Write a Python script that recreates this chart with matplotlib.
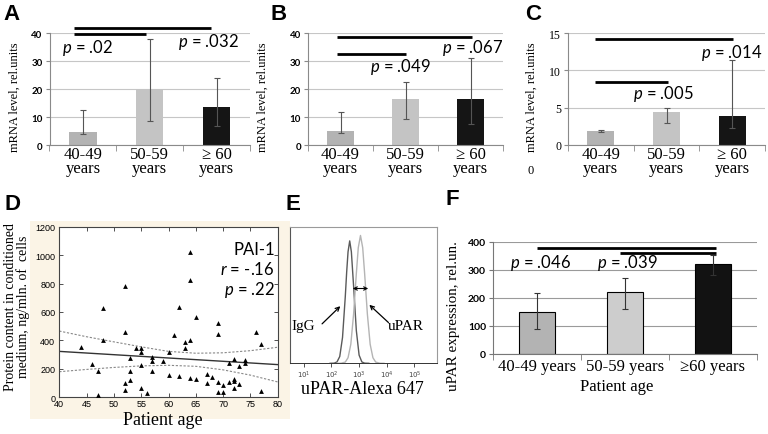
import matplotlib
matplotlib.use('Agg')
import matplotlib.pyplot as plt
import numpy as np
from matplotlib.patches import Rectangle
from matplotlib.ticker import LogLocator, NullFormatter

# ---------------- data ----------------
age_groups = ['40-49\nyears', '50-59\nyears', '\u2265 60\nyears']
f_age_groups = ['40-49 years', '50-59 years', '\u226560 years']

a_mean = [4.6, 20.0, 13.6]
a_low = [3.9, 8.5, 6.9]
a_high = [12.5, 37.7, 23.9]

b_mean = [4.9, 16.5, 16.3]
b_low = [4.2, 9.3, 7.5]
b_high = [11.9, 22.5, 31.0]

c_mean = [1.92, 4.42, 3.93]
c_low = [1.75, 2.95, 2.28]
c_high = [2.05, 4.96, 11.43]

f_mean = [149, 221, 321]
f_low = [88, 160, 281]
f_high = [217, 271, 352]

a_pvals = ['p = .02', 'p = .032']
b_pvals = ['p = .049', 'p = .067']
c_pvals = ['p = .005', 'p = .014']
f_pvals = ['p = .046', 'p = .039']

d_age = [44, 46, 47, 47, 48, 48, 52, 52, 52, 52, 53, 53, 53, 54, 55, 55, 55, 55,
         56, 57, 57, 57, 59, 60, 60, 61, 62, 62, 63, 63, 64, 64, 64, 64, 65, 65,
         67, 67, 68, 69, 69, 69, 69, 70, 70, 71, 71, 72, 72, 72, 72, 73, 73, 74,
         74, 76, 77, 77]
d_pai1 = [352, 234, 183, 14, 630, 400, 784, 457, 104, 52, 274, 183, 123, 347, 347,
          321, 230, 66, 27, 284, 258, 183, 253, 321, 157, 440, 633, 152, 391, 348,
          1020, 822, 404, 134, 563, 130, 164, 103, 143, 522, 444, 110, 38, 89, 36,
          244, 108, 270, 129, 114, 63, 220, 94, 259, 244, 456, 376, 45]
d_fit_x = [40, 80]
d_fit_y = [323, 230]
d_band_x = [40, 45, 50, 55, 60, 65, 70, 75, 80]
d_band_hi = [466, 426, 390, 355, 323, 310, 313, 328, 352]
d_band_lo = [180, 196, 210, 221, 225, 218, 193, 156, 108]

igg_logx = [1.95, 2.1, 2.2, 2.3, 2.4, 2.5, 2.55, 2.6, 2.66, 2.72, 2.8, 2.9, 3.0, 3.1, 3.2, 3.35]
igg_h = [0.0, 0.001, 0.01, 0.05, 0.19, 0.49, 0.67, 0.82, 0.90, 0.82, 0.57, 0.24, 0.06, 0.01, 0.001, 0.0]
upar_logx = [2.2, 2.35, 2.5, 2.6, 2.7, 2.8, 2.9, 2.97, 3.05, 3.13, 3.2, 3.3, 3.4, 3.5, 3.6, 3.75, 3.9]
upar_h = [0.0, 0.0005, 0.009, 0.041, 0.14, 0.36, 0.66, 0.85, 0.94, 0.85, 0.66, 0.36, 0.14, 0.041, 0.009, 0.0005, 0.0]

# ---------------- layout helpers ----------------
W, H = 768, 435
fig = plt.figure(figsize=(W / 100, H / 100), dpi=100)
SANS = 'Lato'
SERIF = 'Liberation Serif'
ARIAL = 'Liberation Sans'

plt.rcParams['mathtext.fontset'] = 'custom'
plt.rcParams['mathtext.it'] = 'Lato:italic'
plt.rcParams['mathtext.rm'] = 'Lato'


def add_ax(x0, y0, x1, y1):
    return fig.add_axes([x0 / W, 1 - y1 / H, (x1 - x0) / W, (y1 - y0) / H])


def ftext(x, y, s, **kw):
    fig.text(x / W, 1 - y / H, s, **kw)


# beige background behind panel D
fig.patches.append(Rectangle((30 / W, 1 - 420 / H), 260 / W, 198 / H,
                             transform=fig.transFigure, facecolor='#fbf4e6',
                             edgecolor='none', zorder=-5))

bar_cols = ['#b3b3b3', '#c4c4c4', '#151515']


def bar_panel(ax, means, lows, highs, ymax, step, tfont, tsize):
    x = np.arange(len(means))
    err = [np.subtract(means, lows), np.subtract(highs, means)]
    ax.bar(x, means, width=0.41, color=bar_cols, zorder=2)
    ax.errorbar(x, means, yerr=err, fmt='none', ecolor='#555555', elinewidth=0.8,
                capsize=2, capthick=0.8, zorder=3)
    ax.set_xlim(-0.5, 2.5)
    ax.set_ylim(0, ymax)
    ax.set_yticks(np.arange(0, ymax + 0.01, step))
    ax.yaxis.grid(True, color='#c6c6c6', lw=0.8)
    ax.set_axisbelow(True)
    for s in ['top', 'right']:
        ax.spines[s].set_visible(False)
    ax.spines['left'].set_color('#8a8a8a')
    ax.spines['bottom'].set_color('#8a8a8a')
    ax.set_xticks(x)
    ax.set_xticklabels(age_groups, fontfamily=SERIF, fontsize=12, linespacing=0.78)
    ax.set_xticks([-0.5, 0.5, 1.5, 2.5], minor=True)
    ax.tick_params(axis='x', which='major', length=0, pad=1)
    ax.tick_params(axis='x', which='minor', length=4, color='#8a8a8a')
    ax.tick_params(axis='y', length=3, color='#8a8a8a', pad=2)
    for lbl in ax.get_yticklabels():
        lbl.set_fontfamily(tfont)
        lbl.set_fontsize(tsize)
        lbl.set_fontweight('bold' if tfont == SANS else 'normal')


def sig(ax, x0, x1, y, lw=2.0):
    ax.plot([x0, x1], [y, y], color='k', lw=lw, clip_on=False,
            solid_capstyle='butt', zorder=5)


def ptext(ax, x, y, s, size=12):
    p, rest = s.split(' ', 1)
    ax.text(x, y, '$\\it{p}$ ' + rest, fontfamily=SANS, fontsize=size,
            ha='left', va='baseline', zorder=6)


# ---------------- Panel A ----------------
axA = add_ax(49.5, 34, 250, 146)
bar_panel(axA, a_mean, a_low, a_high, 40, 10, SANS, 7)
sig(axA, -0.13, 1.91, 41.8)
sig(axA, -0.13, 0.95, 39.6)
ptext(axA, -0.32, 33.2, a_pvals[0])
ptext(axA, 1.42, 35.5, a_pvals[1])
ftext(15, 97, 'mRNA level, rel.units', rotation=90, ha='center', va='center',
      fontfamily=SERIF, fontsize=9)

# ---------------- Panel B ----------------
axB = add_ax(308, 34, 503, 146)
bar_panel(axB, b_mean, b_low, b_high, 40, 10, SANS, 7)
sig(axB, -0.06, 2.02, 38.7)
sig(axB, -0.06, 1.0, 32.5)
ptext(axB, 0.45, 26.5, b_pvals[0])
ptext(axB, 1.56, 33.1, b_pvals[1])
ftext(263, 97, 'mRNA level, rel.units', rotation=90, ha='center', va='center',
      fontfamily=SERIF, fontsize=9)

# ---------------- Panel C ----------------
axC = add_ax(568, 34, 765, 146)
bar_panel(axC, c_mean, c_low, c_high, 15, 5, SERIF, 8.5)
sig(axC, -0.09, 2.02, 14.2)
sig(axC, -0.09, 1.02, 8.4)
ptext(axC, 0.49, 6.3, c_pvals[0])
ptext(axC, 1.53, 11.75, c_pvals[1])
ftext(532, 97, 'mRNA level, rel.units', rotation=90, ha='center', va='center',
      fontfamily=SERIF, fontsize=9)
ftext(531, 171, '0', ha='center', va='center', fontfamily=SERIF, fontsize=9)

# ---------------- Panel D ----------------
axD = add_ax(59.3, 227.7, 277.7, 398.3)
axD.set_facecolor('white')
axD.scatter(d_age, d_pai1, marker='^', s=12, color='black', linewidths=0, zorder=3)
axD.plot(d_fit_x, d_fit_y, color='#333333', lw=1.0, zorder=2)
axD.plot(d_band_x, d_band_hi, color='#888888', lw=0.8, ls=(0, (2, 1.5)), zorder=2)
axD.plot(d_band_x, d_band_lo, color='#888888', lw=0.8, ls=(0, (2, 1.5)), zorder=2)
axD.set_xlim(40, 80)
axD.set_ylim(0, 1200)
axD.set_xticks(np.arange(40, 81, 5))
axD.set_yticks(np.arange(0, 1201, 200))
axD.tick_params(direction='in', top=True, right=True, length=3, width=0.6,
                labelsize=6.5, color='#333333')
axD.tick_params(axis='x', pad=1.5)
axD.tick_params(axis='y', pad=3)
for lbl in axD.get_xticklabels() + axD.get_yticklabels():
    lbl.set_fontfamily(ARIAL)
for s in axD.spines.values():
    s.set_color('#444444')
    s.set_linewidth(0.8)
axD.text(79.5, 1008, 'PAI-1', ha='right', va='baseline', fontfamily=SANS, fontsize=12)
axD.text(79.5, 867, '$\\it{r}$ = -.16', ha='right', va='baseline', fontfamily=SANS, fontsize=12)
axD.text(79.5, 726, '$\\it{p}$ = .22', ha='right', va='baseline', fontfamily=SANS, fontsize=12)
ftext(162.5, 421, 'Patient age', ha='center', va='center', fontfamily=SERIF, fontsize=13)
ftext(17, 307, 'Protein content in conditioned\nmedium, ng/mln. of  cells', rotation=90,
      ha='center', va='center', fontfamily=SERIF, fontsize=10, linespacing=1.0,
      multialignment='center')

# ---------------- Panel E ----------------
axE = add_ax(290, 228.3, 436.5, 364.3)
axE.set_xscale('log')
axE.plot(10 ** np.array(igg_logx), igg_h, color='#5a5a5a', lw=1.0)
axE.plot(10 ** np.array(upar_logx), upar_h, color='#b4b4b4', lw=1.0)
axE.set_xlim(10 ** 0.5, 10 ** 5.8)
axE.set_ylim(0, 1)
axE.set_yticks([])
axE.set_xticks([1e1, 1e2, 1e3, 1e4, 1e5])
axE.set_xticklabels(['$\\mathregular{10^1}$', '$\\mathregular{10^2}$', '$\\mathregular{10^3}$',
                     '$\\mathregular{10^4}$', '$\\mathregular{10^5}$'], fontsize=5,
                    color='#444444')
axE.xaxis.set_minor_locator(LogLocator(base=10, subs=np.arange(2, 10)))
axE.xaxis.set_minor_formatter(NullFormatter())
axE.tick_params(axis='x', which='major', length=3, width=0.6, pad=1, color='#333333')
axE.tick_params(axis='x', which='minor', length=1.8, width=0.5, color='#333333')
axE.spines['left'].set_color('#555555')
axE.spines['top'].set_color('#9a9a9a')
axE.spines['right'].set_color('#9a9a9a')
axE.spines['bottom'].set_color('#333333')
axE.spines['bottom'].set_linewidth(0.7)
axE.annotate('', xy=(10 ** 3.33, 0.55), xytext=(10 ** 2.77, 0.55),
             arrowprops=dict(arrowstyle='<->', lw=0.8, color='black', mutation_scale=6,
                             shrinkA=0, shrinkB=0))
axE.text(10 ** 0.97, 0.28, 'IgG', ha='center', va='center', fontfamily=SERIF, fontsize=11)
axE.annotate('', xy=(10 ** 2.32, 0.42), xytext=(10 ** 1.66, 0.29),
             arrowprops=dict(arrowstyle='->', lw=0.9, color='black', mutation_scale=7,
                             shrinkA=0, shrinkB=0))
axE.text(10 ** 4.68, 0.28, 'uPAR', ha='center', va='center', fontfamily=SERIF, fontsize=11)
axE.annotate('', xy=(10 ** 3.37, 0.43), xytext=(10 ** 4.06, 0.30),
             arrowprops=dict(arrowstyle='->', lw=0.9, color='black', mutation_scale=7,
                             shrinkA=0, shrinkB=0))
ftext(362.5, 390, 'uPAR-Alexa 647', ha='center', va='center', fontfamily=SERIF, fontsize=13)

# ---------------- Panel F ----------------
axF = add_ax(493, 243, 757, 355)
xf = np.arange(3)
f_err = [np.subtract(f_mean, f_low), np.subtract(f_high, f_mean)]
axF.bar(xf, f_mean, width=0.41, color=['#b3b3b3', '#cdcdcd', '#121212'],
        edgecolor='black', linewidth=0.8, zorder=2)
axF.errorbar(xf, f_mean, yerr=f_err, fmt='none', ecolor='#333333', elinewidth=0.8,
             capsize=2.5, capthick=0.8, zorder=3)
axF.set_xlim(-0.5, 2.5)
axF.set_ylim(0, 400)
axF.set_yticks(np.arange(0, 401, 100))
axF.yaxis.grid(True, color='#9a9a9a', lw=0.8)
axF.set_axisbelow(True)
for s in ['top', 'right']:
    axF.spines[s].set_visible(False)
axF.spines['left'].set_color('#777777')
axF.spines['bottom'].set_color('#777777')
axF.set_xticks(xf)
axF.set_xticklabels(f_age_groups, fontfamily=SERIF, fontsize=12)
axF.set_xticks([-0.5, 0.5, 1.5, 2.5], minor=True)
axF.tick_params(axis='x', which='major', length=0, pad=3)
axF.tick_params(axis='x', which='minor', length=4, color='#777777')
axF.tick_params(axis='y', length=3, color='#777777', pad=2)
for lbl in axF.get_yticklabels():
    lbl.set_fontfamily(SANS)
    lbl.set_fontsize(7.5)
    lbl.set_fontweight('bold')
sig(axF, 0.0, 2.03, 378.6)
sig(axF, 0.94, 2.03, 360.7)
ptext(axF, -0.31, 309.6, f_pvals[0])
ptext(axF, 0.68, 309.6, f_pvals[1])
ftext(453, 316, 'uPAR expression, rel.un.', rotation=90, ha='center', va='center',
      fontfamily=SERIF, fontsize=10.8)
ftext(617, 387, 'Patient age', ha='center', va='center', fontfamily=SERIF, fontsize=12)

# ---------------- panel letters ----------------
for (x, y, s) in [(12, 14, 'A'), (279, 14, 'B'), (533, 14, 'C'),
                  (12, 204, 'D'), (293, 204, 'E'), (452, 200, 'F')]:
    ftext(x, y, s, ha='center', va='center', fontfamily=ARIAL, fontsize=16,
          fontweight='bold')

fig.savefig('out.png', dpi=100)
